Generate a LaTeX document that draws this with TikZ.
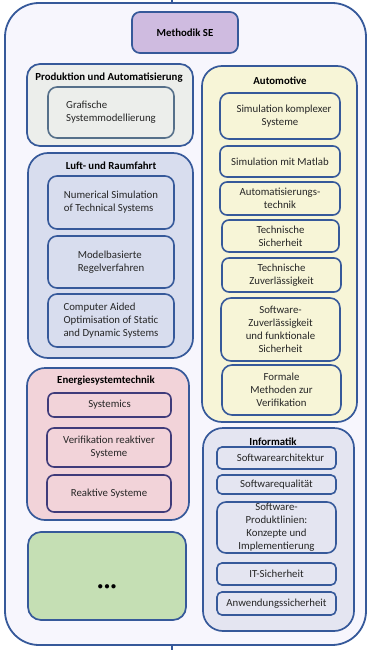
\documentclass[tikz,border=0pt]{standalone}
\usepackage{fontspec}
\setmainfont{Carlito}
\definecolor{bordblue}{HTML}{36599A}
\definecolor{outerfill}{HTML}{F7F6FD}
\definecolor{methfill}{HTML}{CFBBE0}
\definecolor{prodfill}{HTML}{ECEEEB}
\definecolor{prodinner}{HTML}{56708A}
\definecolor{luftfill}{HTML}{D8DDEE}
\definecolor{energfill}{HTML}{F2D3D9}
\definecolor{energinner}{HTML}{3F3B7A}
\definecolor{greenfill}{HTML}{C5DFB4}
\definecolor{autofill}{HTML}{F7F5D7}
\definecolor{infofill}{HTML}{E4E5F1}
\definecolor{txtgrey}{HTML}{262626}
\tikzset{
  basefont/.style={font=\fontsize{10.8}{13}\selectfont},
  grp/.style={draw=bordblue, line width=1.7pt, rounded corners=16pt, inner sep=0pt},
  itembox/.style={draw=bordblue, line width=1.6pt, rounded corners=7pt, inner sep=0pt,
     basefont, text=txtgrey, align=center},
  grptitle/.style={basefont, font=\fontsize{10.8}{13}\selectfont\bfseries, text=black, inner sep=0pt},
}
\begin{document}
\begin{tikzpicture}[x=1pt,y=-1pt]
\useasboundingbox (0,0) rectangle (371,650);
% outer frame
\node[draw=bordblue, line width=1.8pt, fill=outerfill, rounded corners=34pt,
      minimum width=361pt, minimum height=642pt, inner sep=0pt] (outer) at (185.5,324) {};
\coordinate (topend) at (172,0);
\coordinate (botend) at (172,650);
\draw[bordblue, line width=1.6pt] (topend) -- (topend |- outer.north);
\draw[bordblue, line width=1.6pt] (botend) -- (botend |- outer.south);
% Methodik SE
\node[draw=bordblue, line width=1.7pt, fill=methfill, rounded corners=8pt,
      minimum width=106pt, minimum height=41pt, inner sep=0pt,
      font=\fontsize{10.8}{13}\selectfont\bfseries] (meth) at (185,32.5) {Methodik SE};
% Produktion und Automatisierung
\node[grp, fill=prodfill, rounded corners=13pt, minimum width=166pt, minimum height=82pt] (prod) at (110,105) {};
\node[grptitle] (prodt) at (109,78) {Produktion und Automatisierung};
\node[itembox, draw=prodinner, fill=prodfill, align=left, minimum width=126pt, minimum height=51pt, rounded corners=9pt] (prod1) at (111,112.5) {Grafische\\Systemmodellierung};
% Luft- und Raumfahrt
\node[grp, fill=luftfill, rounded corners=20pt, minimum width=165pt, minimum height=205pt] (luft) at (110.5,255.5) {};
\node[grptitle] (luftt) at (111,166) {Luft- und Raumfahrt};
\node[itembox, fill=luftfill, align=left, minimum width=126pt, minimum height=53pt, rounded corners=9pt] (luft1) at (111,202.5) {Numerical Simulation\\of Technical Systems};
\node[itembox, fill=luftfill, align=left, minimum width=126pt, minimum height=52pt, rounded corners=9pt] (luft2) at (111,262) {Modelbasierte\\Regelverfahren};
\node[itembox, fill=luftfill, align=left, minimum width=126pt, minimum height=53pt, rounded corners=9pt] (luft3) at (111,320.5) {Computer Aided\\Optimisation of Static\\and Dynamic Systems};
% Energiesystemtechnik
\node[grp, fill=energfill, rounded corners=18pt, minimum width=162pt, minimum height=152pt] (energ) at (108,444) {};
\node[grptitle] (energt) at (106,381) {Energiesystemtechnik};
\node[itembox, draw=energinner, fill=energfill, minimum width=123pt, minimum height=24pt, rounded corners=6pt] (energ1) at (109.5,405) {Systemics};
\node[itembox, draw=energinner, fill=energfill, minimum width=124pt, minimum height=39pt, rounded corners=7pt] (energ2) at (109,447.5) {Verifikation reaktiver\\Systeme};
\node[itembox, draw=energinner, fill=energfill, minimum width=124pt, minimum height=37pt, rounded corners=7pt] (energ3) at (109,493.5) {Reaktive Systeme};
% Green box
\node[grp, fill=greenfill, rounded corners=13pt, minimum width=158pt, minimum height=88pt] (more) at (107,576) {};
\node[font=\fontsize{11}{11}\selectfont, inner sep=0pt] (dots) at (107,587) {$\bullet\mkern-2mu\bullet\mkern-2mu\bullet$};
% Automotive
\node[grp, fill=autofill, rounded corners=20pt, minimum width=155pt, minimum height=356pt] (auto) at (279.5,244) {};
\node[grptitle] (autot) at (280,81) {Automotive};
\node[itembox, fill=autofill, minimum width=120pt, minimum height=46pt, rounded corners=9pt] (auto1) at (280,116) {\hspace*{8pt}Simulation komplexer\\Systeme};
\node[itembox, fill=autofill, minimum width=120pt, minimum height=31pt] (auto2) at (280,161.5) {Simulation mit Matlab};
\node[itembox, fill=autofill, minimum width=120pt, minimum height=33pt] (auto3) at (280,198.5) {Automatisierungs-\\technik};
\node[itembox, fill=autofill, minimum width=117pt, minimum height=32pt] (auto4) at (280.5,236) {Technische\\Sicherheit};
\node[itembox, fill=autofill, minimum width=119pt, minimum height=34pt] (auto5) at (281.5,275) {Technische\\Zuverlässigkeit};
\node[itembox, fill=autofill, minimum width=119pt, minimum height=63pt, rounded corners=10pt] (auto6) at (280.5,329.5) {Software-\\Zuverlässigkeit\\und funktionale\\Sicherheit};
\node[itembox, fill=autofill, minimum width=119pt, minimum height=50pt, rounded corners=10pt] (auto7) at (281.5,390) {Formale\\Methoden zur\\Verifikation};
% Informatik
\node[grp, fill=infofill, rounded corners=20pt, minimum width=151pt, minimum height=203pt] (info) at (278.5,529.5) {};
\node[grptitle] (infot) at (273,442) {Informatik};
\node[itembox, fill=infofill, minimum width=119pt, minimum height=22pt, rounded corners=5pt] (info1) at (276.5,458) {\hspace*{8pt}Softwarearchitektur};
\node[itembox, fill=infofill, minimum width=119pt, minimum height=19pt, rounded corners=5pt] (info2) at (276.5,484.5) {Softwarequalität};
\node[itembox, fill=infofill, minimum width=119pt, minimum height=51pt, rounded corners=9pt] (info3) at (276.5,527.5) {Software-\\Produktlinien:\\Konzepte und\\Implementierung};
\node[itembox, fill=infofill, minimum width=119pt, minimum height=22pt, rounded corners=5pt] (info4) at (276.5,574) {IT-Sicherheit};
\node[itembox, fill=infofill, minimum width=119pt, minimum height=23pt, rounded corners=5pt] (info5) at (276.5,603.5) {Anwendungssicherheit};
\end{tikzpicture}
\end{document}
